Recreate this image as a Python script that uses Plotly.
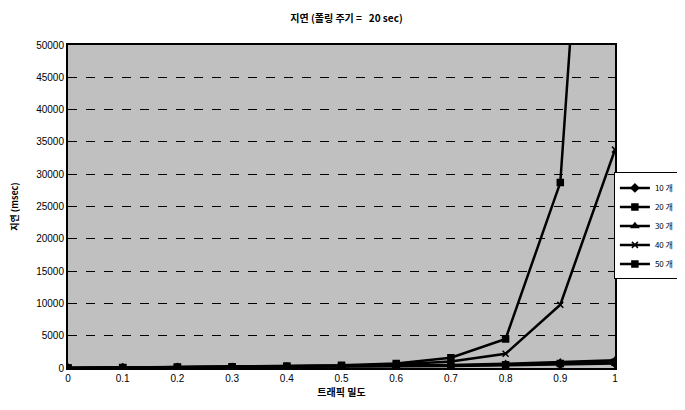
import plotly.graph_objs as go

density = [0.0, 0.1, 0.2, 0.3, 0.4, 0.5, 0.6, 0.7, 0.8, 0.9, 1.0]

delay_10 = [0, 40, 70, 100, 140, 180, 240, 320, 420, 550, 700]
delay_20 = [0, 50, 80, 120, 160, 210, 290, 380, 500, 680, 900]
delay_30 = [0, 60, 100, 140, 190, 250, 350, 480, 650, 900, 1200]
delay_40 = [0, 80, 130, 180, 250, 350, 550, 1000, 2200, 9800, 33800]
delay_50 = [0, 90, 150, 210, 300, 420, 700, 1600, 4500, 28700, 150000]

names = ["10 개", "20 개", "30 개", "40 개", "50 개"]
symbols = ["diamond", "square", "triangle-up", "x-thin", "square"]

font_kr = "Noto Sans CJK KR, Liberation Sans, sans-serif"
font_num = "Liberation Sans, Arial, sans-serif"

traces = [
    go.Scatter(
        x=density,
        y=ys,
        name=names[i],
        mode="lines+markers",
        line=dict(color="black", width=2.5),
        marker=dict(symbol=symbols[i], size=6, color="black",
                    line=dict(color="black", width=1.5)),
    )
    for i, ys in enumerate([delay_10, delay_20, delay_30, delay_40, delay_50])
]

# page body has an 8px margin, so the figure is a bit smaller than the window
fig = go.Figure(
    data=traces,
    layout=go.Layout(
        width=677,
        height=402,
        margin=dict(l=60, r=70, t=37, b=42, autoexpand=False),
        paper_bgcolor="white",
        plot_bgcolor="#c0c0c0",
        font=dict(family=font_kr, color="black", size=10),
        title=dict(
            text="<b>지연 (폴링 주기 =   20 sec)</b>",
            x=0.5, xanchor="center", y=0.982, yanchor="top",
            font=dict(size=10, family=font_kr),
        ),
        xaxis=dict(
            range=[0, 1],
            tickvals=density,
            ticktext=["0", "0.1", "0.2", "0.3", "0.4", "0.5", "0.6", "0.7", "0.8", "0.9", "1"],
            showgrid=False,
            zeroline=False,
            showline=True,
            linecolor="black",
            linewidth=2,
            mirror=True,
            ticks="",
            automargin=False,
            tickfont=dict(size=10, family=font_num),
            title=dict(text="<b>트래픽 밀도</b>", font=dict(size=10), standoff=2),
        ),
        yaxis=dict(
            range=[0, 50000],
            dtick=5000,
            tickformat="d",
            showgrid=True,
            gridcolor="black",
            gridwidth=1,
            griddash="dash",
            zeroline=False,
            showline=True,
            linecolor="black",
            linewidth=2,
            mirror=True,
            ticks="",
            automargin=False,
            tickfont=dict(size=10, family=font_num),
            title=dict(text="<b>지연 (msec)</b>", font=dict(size=9), standoff=24),
        ),
        legend=dict(
            x=0.998, xanchor="left", y=0.44, yanchor="middle",
            bgcolor="white",
            bordercolor="black",
            borderwidth=1,
            font=dict(size=8, family=font_kr),
            itemwidth=30,
            tracegroupgap=0,
        ),
        showlegend=True,
    ),
)

fig.write_html("out.html")
